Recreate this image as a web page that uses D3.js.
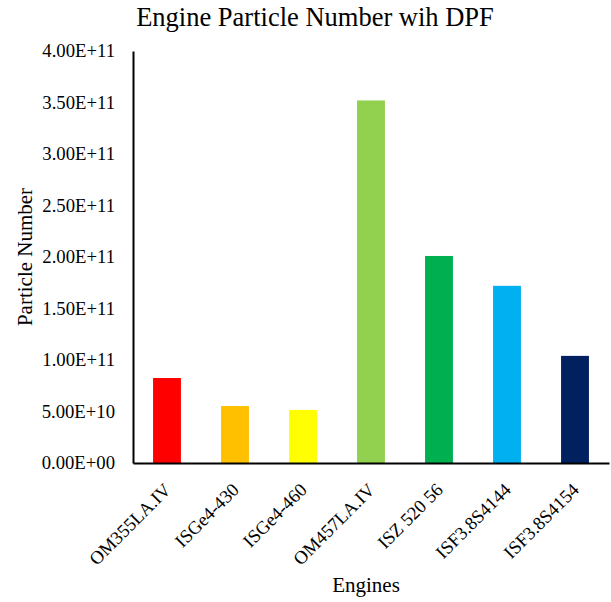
<!DOCTYPE html>
<html>
<head>
<meta charset="utf-8">
<script src="https://cdn.jsdelivr.net/npm/d3@7"></script>
<style>
  body { margin: 0; background: #fff; }
  svg text { font-family: 'Liberation Serif', 'Times New Roman', Times, serif; fill: #000; }
</style>
</head>
<body>
<div id="chart"></div>
<script>
const engines = ['OM355LA.IV', 'ISGe4-430', 'ISGe4-460', 'OM457LA.IV', 'ISZ 520 56', 'ISF3.8S4144', 'ISF3.8S4154'];
const particles = [8.25e10, 5.53e10, 5.15e10, 3.52e11, 2.01e11, 1.72e11, 1.04e11];
const colors = ['#ff0000', '#ffc000', '#ffff00', '#92d050', '#00b050', '#00b0f0', '#002060'];
const yTicks = [0, 5e10, 1e11, 1.5e11, 2e11, 2.5e11, 3e11, 3.5e11, 4e11];

const width = 611;
const height = 602;
const margin = {top: 51, right: 2, bottom: 139, left: 133};

const svg = d3.select('#chart').append('svg')
  .attr('width', width)
  .attr('height', height);

const x = d3.scaleBand()
  .domain(engines)
  .range([margin.left, width - margin.right])
  .paddingInner(0.59)
  .paddingOuter(0.295);

const y = d3.scaleLinear()
  .domain([0, 4e11])
  .range([height - margin.bottom, margin.top]);

// E-notation like Excel, e.g. 3.50E+11
const fmt = v => {
  const [m, e] = v.toExponential(2).split('e');
  const n = Math.abs(+e);
  return m.toUpperCase() + 'E' + (+e < 0 ? '-' : '+') + (n < 10 ? '0' + n : n);
};

svg.append('g')
  .selectAll('rect')
  .data(particles)
  .join('rect')
  .attr('x', (d, i) => x(engines[i]))
  .attr('y', d => y(d))
  .attr('width', x.bandwidth())
  .attr('height', d => y(0) - y(d))
  .attr('fill', (d, i) => colors[i]);

const yAxis = svg.append('g')
  .attr('transform', `translate(${margin.left},0)`)
  .call(d3.axisLeft(y).tickValues(yTicks).tickFormat(fmt).tickSize(0).tickPadding(18))
  .attr('font-family', null);
yAxis.select('.domain').attr('stroke', '#000').attr('stroke-width', 2);
yAxis.selectAll('text').attr('font-size', 18.7).attr('fill', '#000');

const xAxis = svg.append('g')
  .attr('transform', `translate(0,${y(0)})`)
  .call(d3.axisBottom(x).tickSize(0).tickPadding(0))
  .attr('font-family', null);
xAxis.select('.domain').attr('stroke', '#000').attr('stroke-width', 2);
xAxis.selectAll('text')
  .attr('font-size', 18.5)
  .attr('fill', '#000')
  .attr('text-anchor', 'end')
  .attr('dy', null)
  .attr('transform', 'translate(5,28) rotate(-45)');

svg.append('text')
  .attr('x', 315)
  .attr('y', 26)
  .attr('text-anchor', 'middle')
  .attr('font-size', 26.5)
  .text('Engine Particle Number wih DPF');

svg.append('text')
  .attr('transform', 'translate(32,257) rotate(-90)')
  .attr('text-anchor', 'middle')
  .attr('font-size', 21)
  .text('Particle Number');

svg.append('text')
  .attr('x', 366)
  .attr('y', 592)
  .attr('text-anchor', 'middle')
  .attr('font-size', 21)
  .text('Engines');
</script>
</body>
</html>
